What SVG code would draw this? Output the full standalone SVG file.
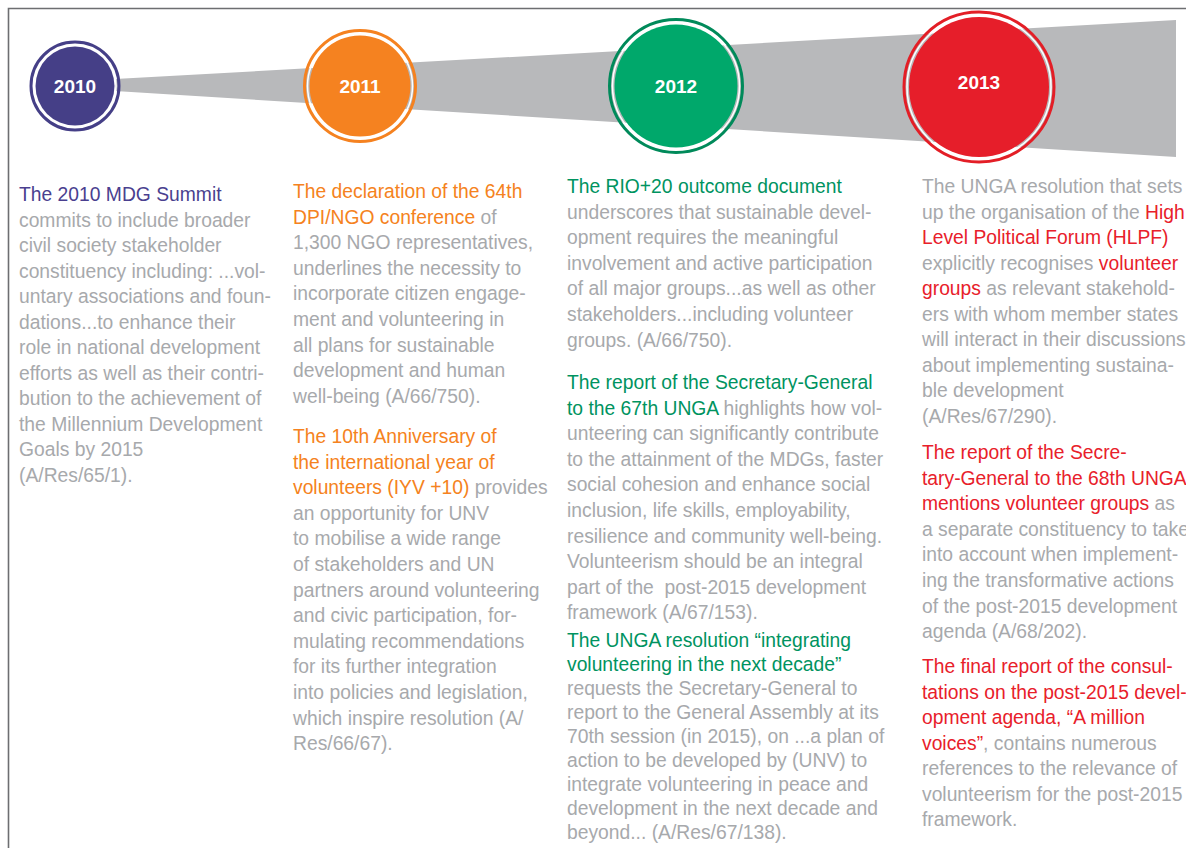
<svg xmlns="http://www.w3.org/2000/svg" width="1186" height="848" viewBox="0 0 1186 848">
<style>
text{font-family:"Liberation Sans",Arial,sans-serif;font-size:19.3px;fill:#A7A9AC}
.yr{font-size:19px;font-weight:bold;fill:#FFFFFF;text-anchor:middle}
.pu{fill:#4A3F8F}
.or{fill:#F58220}
.gr{fill:#00935F}
.rd{fill:#E8202A}
.ring{fill:none;stroke-width:3}
.gap{fill:none;stroke:#FFFFFF;stroke-width:1.5}
</style>
<rect x="0" y="0" width="1186" height="848" fill="#FFFFFF"/>
<path d="M8.5,848 V8.5 H1186" fill="none" stroke="#6D6E71" stroke-width="1.6"/>
<g id="connectors">
<polygon points="115,79 1176,20 1176,157 115,91" fill="#B8B9BB"/>
</g>
<g id="node-2010">
<circle cx="75" cy="86" r="44" class="ring" stroke="#453F87"/>
<circle cx="75" cy="86" r="41" class="gap"/>
<circle cx="75" cy="86" r="39.5" fill="#453F87"/>
<text x="75" y="93" class="yr">2010</text>
</g>
<g id="node-2011">
<circle cx="360" cy="86" r="55.5" class="ring" stroke="#F58220"/>
<circle cx="360" cy="86" r="52.5" class="gap"/>
<circle cx="360" cy="86" r="50.5" fill="#F58220"/>
<text x="360" y="93" class="yr">2011</text>
</g>
<g id="node-2012">
<circle cx="676" cy="86" r="66.5" class="ring" stroke="#008A5A"/>
<circle cx="676" cy="86" r="63.5" class="gap"/>
<circle cx="676" cy="86" r="61.5" fill="#00A86B"/>
<text x="676" y="93" class="yr">2012</text>
</g>
<g id="node-2013">
<circle cx="979" cy="87" r="75" class="ring" stroke="#E31E26"/>
<circle cx="979" cy="87" r="72" class="gap"/>
<circle cx="979" cy="87" r="70" fill="#E61E2A"/>
<text x="979" y="89" class="yr">2013</text>
</g>
<g id="text-2010">
<text x="19" y="201"><tspan class="pu">The 2010 MDG Summit</tspan></text>
<text x="19" y="226.5">commits to include broader</text>
<text x="19" y="252">civil society stakeholder</text>
<text x="19" y="277.5">constituency including: ...vol-</text>
<text x="19" y="303">untary associations and foun-</text>
<text x="19" y="328.5">dations...to enhance their</text>
<text x="19" y="354">role in national development</text>
<text x="19" y="379.5">efforts as well as their contri-</text>
<text x="19" y="405">bution to the achievement of</text>
<text x="19" y="430.5">the Millennium Development</text>
<text x="19" y="456">Goals by 2015</text>
<text x="19" y="481.5">(A/Res/65/1).</text>
</g>
<g id="text-2011">
<text x="293" y="198"><tspan class="or">The declaration of the 64th</tspan></text>
<text x="293" y="223.6"><tspan class="or">DPI/NGO conference</tspan> of</text>
<text x="293" y="249.2">1,300 NGO representatives,</text>
<text x="293" y="274.8">underlines the necessity to</text>
<text x="293" y="300.4">incorporate citizen engage-</text>
<text x="293" y="326">ment and volunteering in</text>
<text x="293" y="351.6">all plans for sustainable</text>
<text x="293" y="377.2">development and human</text>
<text x="293" y="402.8">well-being (A/66/750).</text>
<text x="293" y="443"><tspan class="or">The 10th Anniversary of</tspan></text>
<text x="293" y="468.6"><tspan class="or">the international year of</tspan></text>
<text x="293" y="494.2"><tspan class="or">volunteers (IYV +10)</tspan> provides</text>
<text x="293" y="519.8">an opportunity for UNV</text>
<text x="293" y="545.4">to mobilise a wide range</text>
<text x="293" y="571">of stakeholders and UN</text>
<text x="293" y="596.6">partners around volunteering</text>
<text x="293" y="622.2">and civic participation, for-</text>
<text x="293" y="647.8">mulating recommendations</text>
<text x="293" y="673.4">for its further integration</text>
<text x="293" y="699">into policies and legislation,</text>
<text x="293" y="724.6">which inspire resolution (A/</text>
<text x="293" y="750.2">Res/66/67).</text>
</g>
<g id="text-2012">
<text x="567" y="193"><tspan class="gr">The RIO+20 outcome document</tspan></text>
<text x="567" y="218.6">underscores that sustainable devel-</text>
<text x="567" y="244.2">opment requires the meaningful</text>
<text x="567" y="269.8">involvement and active participation</text>
<text x="567" y="295.4">of all major groups...as well as other</text>
<text x="567" y="321">stakeholders...including volunteer</text>
<text x="567" y="346.6">groups. (A/66/750).</text>
<text x="567" y="389"><tspan class="gr">The report of the Secretary-General</tspan></text>
<text x="567" y="414.6"><tspan class="gr">to the 67th UNGA</tspan> highlights how vol-</text>
<text x="567" y="440.2">unteering can significantly contribute</text>
<text x="567" y="465.8">to the attainment of the MDGs, faster</text>
<text x="567" y="491.4">social cohesion and enhance social</text>
<text x="567" y="517">inclusion, life skills, employability,</text>
<text x="567" y="542.6">resilience and community well-being.</text>
<text x="567" y="568.2">Volunteerism should be an integral</text>
<text x="567" y="593.8" xml:space="preserve">part of the  post-2015 development</text>
<text x="567" y="619.4">framework (A/67/153).</text>
<text x="567" y="646.5"><tspan class="gr">The UNGA resolution “integrating</tspan></text>
<text x="567" y="670.6"><tspan class="gr">volunteering in the next decade”</tspan></text>
<text x="567" y="694.7">requests the Secretary-General to</text>
<text x="567" y="718.8">report to the General Assembly at its</text>
<text x="567" y="742.9">70th session (in 2015), on ...a plan of</text>
<text x="567" y="767">action to be developed by (UNV) to</text>
<text x="567" y="791.1">integrate volunteering in peace and</text>
<text x="567" y="815.2">development in the next decade and</text>
<text x="567" y="839.3">beyond... (A/Res/67/138).</text>
</g>
<g id="text-2013">
<text x="922" y="193">The UNGA resolution that sets</text>
<text x="922" y="218.5">up the organisation of the <tspan class="rd">High</tspan></text>
<text x="922" y="244"><tspan class="rd">Level Political Forum (HLPF)</tspan></text>
<text x="922" y="269.5">explicitly recognises <tspan class="rd">volunteer</tspan></text>
<text x="922" y="295"><tspan class="rd">groups</tspan> as relevant stakehold-</text>
<text x="922" y="320.5">ers with whom member states</text>
<text x="922" y="346">will interact in their discussions</text>
<text x="922" y="371.5">about implementing sustaina-</text>
<text x="922" y="397">ble development</text>
<text x="922" y="422.5">(A/Res/67/290).</text>
<text x="922" y="459"><tspan class="rd">The report of the Secre-</tspan></text>
<text x="922" y="484.6"><tspan class="rd">tary-General to the 68th UNGA</tspan></text>
<text x="922" y="510.2"><tspan class="rd">mentions volunteer groups</tspan> as</text>
<text x="922" y="535.8">a separate constituency to take</text>
<text x="922" y="561.4">into account when implement-</text>
<text x="922" y="587">ing the transformative actions</text>
<text x="922" y="612.6">of the post-2015 development</text>
<text x="922" y="638.2">agenda (A/68/202).</text>
<text x="922" y="673"><tspan class="rd">The final report of the consul-</tspan></text>
<text x="922" y="698.5"><tspan class="rd">tations on the post-2015 devel-</tspan></text>
<text x="922" y="724"><tspan class="rd">opment agenda, “A million</tspan></text>
<text x="922" y="749.5"><tspan class="rd">voices”</tspan>, contains numerous</text>
<text x="922" y="775">references to the relevance of</text>
<text x="922" y="800.5">volunteerism for the post-2015</text>
<text x="922" y="826">framework.</text>
</g>
</svg>
